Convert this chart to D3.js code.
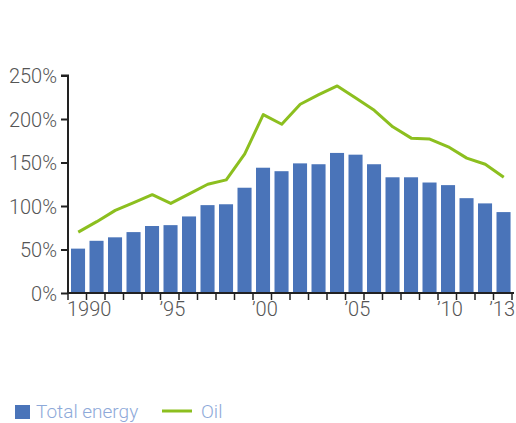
<!DOCTYPE html>
<html>
<head>
<meta charset="utf-8">
<script src="https://cdn.jsdelivr.net/npm/d3@7"></script>
<style>
  body { margin: 0; background: #fff; }
  text { font-family: Roboto, "Open Sans", sans-serif; font-weight: 300; }
</style>
</head>
<body>
<div id="chart"></div>
<script>
var years = d3.range(1990, 2014);
var yearLabels = { 1990: "1990", 1995: "\u201995", 2000: "\u201900", 2005: "\u201905", 2010: "\u201910", 2013: "\u201913" };
var totalEnergy = [51, 60, 64, 70, 77, 78, 88, 101, 102, 121, 144, 140, 149, 148, 161, 159, 148, 133, 133, 127, 124, 109, 103, 93];
var oil = [70, 82, 95, 104, 113, 103, 114, 125, 130, 160, 205, 194, 217, 228, 238, 224, 210, 191, 178, 177, 168, 155, 148, 133];
var yTicks = [0, 50, 100, 150, 200, 250];

var cfg = { w: 516, h: 423, left: 68, right: 512, top: 75.5, bot: 293 };

var svg = d3.select("#chart").append("svg")
  .attr("width", cfg.w)
  .attr("height", cfg.h);

var x = d3.scaleBand()
  .domain(years)
  .range([cfg.left, cfg.right]);

var y = d3.scaleLinear()
  .domain([0, 250])
  .range([cfg.bot, cfg.top]);

// bars
svg.append("g").selectAll("rect")
  .data(totalEnergy)
  .enter().append("rect")
  .attr("x", function(d, i) { return x(years[i]) + 3; })
  .attr("y", function(d) { return y(d); })
  .attr("width", x.bandwidth() * 0.76)
  .attr("height", function(d) { return y(0) - y(d); })
  .style("fill", "#4a74b9");

// oil line
var line = d3.line()
  .x(function(d, i) { return x(years[i]) + x.bandwidth() / 2 + 1; })
  .y(function(d) { return y(d); });

svg.append("path")
  .datum(oil)
  .attr("d", line)
  .style("fill", "none")
  .style("stroke", "#8cbf1f")
  .style("stroke-width", 3)
  .style("stroke-linejoin", "round");

// y axis
var yAxis = svg.append("g")
  .attr("transform", "translate(" + cfg.left + ",0)")
  .call(d3.axisLeft(y).tickValues(yTicks).tickSize(7).tickPadding(4)
    .tickFormat(function(d) { return d + "%"; }));
yAxis.select(".domain").attr("d", "M-7," + y(250) + "H0V" + y(0)).style("stroke", "#222").style("stroke-width", 2);
yAxis.selectAll(".tick line").style("stroke", "#222").style("stroke-width", 2);
yAxis.selectAll(".tick text")
  .style("font-size", "20px")
  .style("fill", "#555")
  .attr("dy", "0.36em");

// x axis
var xAxis = svg.append("g")
  .attr("transform", "translate(0," + cfg.bot + ")");
xAxis.append("line")
  .attr("x1", cfg.left - 1)
  .attr("x2", cfg.right + 2)
  .style("stroke", "#222")
  .style("stroke-width", 2);
xAxis.selectAll(".xtick")
  .data(years.concat([2014]))
  .enter().append("line")
  .attr("class", "xtick")
  .attr("x1", function(d, i) { return cfg.left + i * x.step(); })
  .attr("x2", function(d, i) { return cfg.left + i * x.step(); })
  .attr("y1", 0)
  .attr("y2", 7)
  .style("stroke", "#222")
  .style("stroke-width", 1.5);
// last label sits against the right edge so it stays whole
xAxis.selectAll(".xlabel")
  .data(years.filter(function(d) { return yearLabels[d]; }))
  .enter().append("text")
  .attr("class", "xlabel")
  .attr("x", function(d) { return d === 2013 ? cfg.w - 1 : x(d) - 1; })
  .attr("y", 23)
  .attr("text-anchor", function(d) { return d === 2013 ? "end" : "start"; })
  .style("font-size", "20px")
  .style("fill", "#555")
  .text(function(d) { return yearLabels[d]; });

// legend
var legend = svg.append("g").attr("transform", "translate(15,405)");
legend.append("rect")
  .attr("width", 15)
  .attr("height", 14)
  .style("fill", "#4a74b9");
legend.append("text")
  .attr("x", 21)
  .attr("y", 13)
  .style("font-size", "19px")
  .style("fill", "#8ea9d9")
  .text("Total energy");
legend.append("line")
  .attr("x1", 147)
  .attr("x2", 177)
  .attr("y1", 6)
  .attr("y2", 6)
  .style("stroke", "#8cbf1f")
  .style("stroke-width", 3);
legend.append("text")
  .attr("x", 186)
  .attr("y", 13)
  .style("font-size", "19px")
  .style("fill", "#8ea9d9")
  .text("Oil");
</script>
</body>
</html>
